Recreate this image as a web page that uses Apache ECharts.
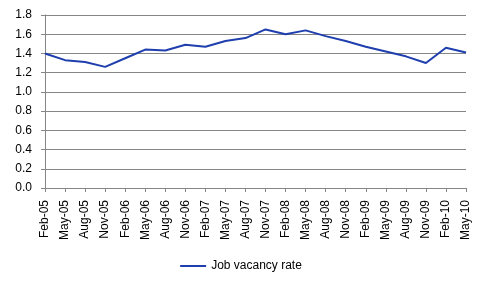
<!DOCTYPE html>
<html><head><meta charset="utf-8">
<script src="https://cdn.jsdelivr.net/npm/echarts@6/dist/echarts.min.js"></script>
<style>html,body{margin:0;padding:0;background:#fff}#c{width:482px;height:290px}</style>
</head><body><div id="c"></div>
<script>
const categories = ["Feb-05","May-05","Aug-05","Nov-05","Feb-06","May-06","Aug-06","Nov-06","Feb-07","May-07","Aug-07","Nov-07","Feb-08","May-08","Aug-08","Nov-08","Feb-09","May-09","Aug-09","Nov-09","Feb-10","May-10"];
const jobVacancyRate = [1.40,1.33,1.31,1.26,1.35,1.44,1.43,1.49,1.47,1.53,1.56,1.65,1.60,1.64,1.58,1.53,1.47,1.42,1.37,1.30,1.46,1.41];
const seriesName = "Job vacancy rate";
const chart = echarts.init(document.getElementById('c'), null, {renderer:'canvas'});
const font = 'Liberation Sans, Arial, sans-serif';
chart.setOption({
  animation:false,
  backgroundColor:'#fff',
  grid:{left:45,right:16,top:15,bottom:102,containLabel:false},
  legend:{bottom:13,left:'center',itemWidth:26,itemHeight:2,icon:'rect',itemGap:4,
    textStyle:{fontFamily:font,fontSize:12,color:'#000'},data:[seriesName]},
  xAxis:{type:'category',data:categories,boundaryGap:false,
    axisLine:{lineStyle:{color:'#868686'}},
    axisTick:{show:true,alignWithLabel:true,length:4,lineStyle:{color:'#868686'}},
    axisLabel:{rotate:90,interval:0,fontFamily:font,fontSize:12,color:'#000',margin:12}},
  yAxis:{type:'value',min:0,max:1.8,interval:0.2,
    axisLine:{show:true,lineStyle:{color:'#868686'}},
    axisTick:{show:true,length:4,lineStyle:{color:'#868686'}},
    splitLine:{lineStyle:{color:'#868686'}},
    axisLabel:{fontFamily:font,fontSize:12,color:'#000',margin:13,formatter:v=>v.toFixed(1)}},
  series:[{name:seriesName,type:'line',data:jobVacancyRate,showSymbol:false,
    lineStyle:{color:'#1f3fae',width:2},itemStyle:{color:'#1f3fae'}}]
});
</script></body></html>
